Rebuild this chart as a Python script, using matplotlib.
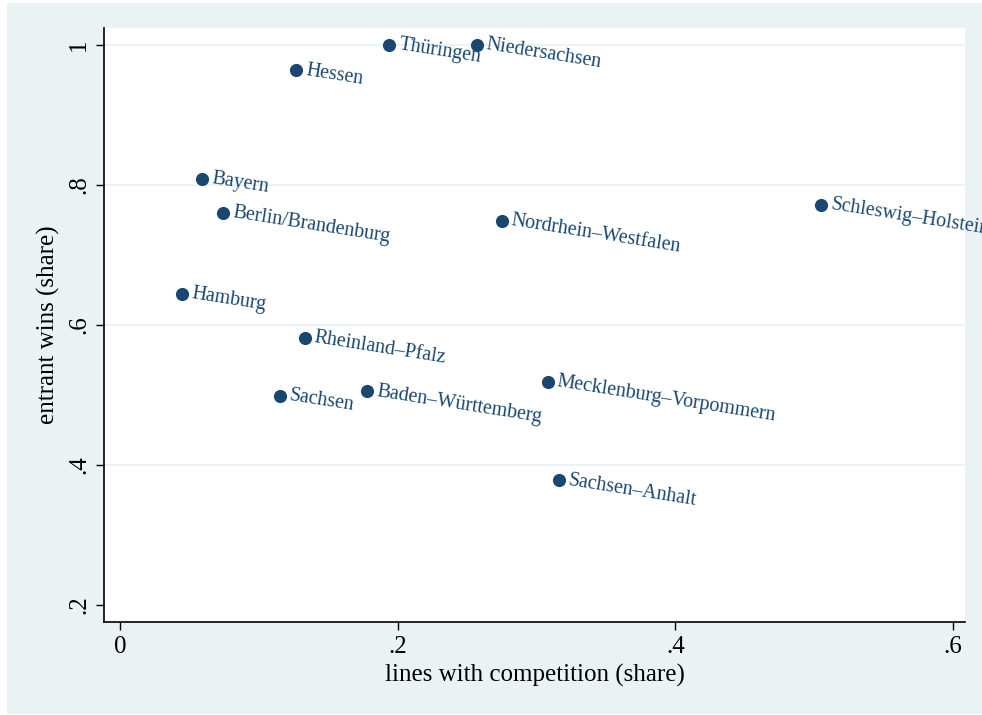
import matplotlib
matplotlib.use("Agg")
import matplotlib.pyplot as plt
from matplotlib.patches import Rectangle

plt.rcParams['font.family'] = ['Liberation Serif', 'DejaVu Serif']

states = ["Thüringen", "Niedersachsen", "Hessen", "Bayern", "Berlin/Brandenburg",
          "Nordrhein–Westfalen", "Schleswig–Holstein", "Hamburg", "Rheinland–Pfalz",
          "Sachsen", "Baden–Württemberg", "Mecklenburg–Vorpommern", "Sachsen–Anhalt"]
competition = [0.194, 0.257, 0.127, 0.059, 0.074, 0.275, 0.505, 0.045, 0.133,
               0.115, 0.178, 0.308, 0.316]
entrant_wins = [1.0, 1.0, 0.964, 0.809, 0.760, 0.749, 0.772, 0.645, 0.582,
                0.499, 0.505, 0.519, 0.378]
xticks = [0, 0.2, 0.4, 0.6]
xticklabels = ["0", ".2", ".4", ".6"]
yticks = [0.2, 0.4, 0.6, 0.8, 1.0]
yticklabels = [".2", ".4", ".6", ".8", "1"]
grid_levels = [0.4, 0.6, 0.8, 1.0]

navy = "#1A476F"
bg = "#EAF2F3"

W, H = 982, 715
fig = plt.figure(figsize=(W / 100, H / 100), dpi=100, facecolor="white")
bgrect = Rectangle((7 / W, 1 / H), 1 - 7 / W, 1 - 4 / H,
                   transform=fig.transFigure, facecolor=bg,
                   edgecolor="none", zorder=-10)
fig.patches.append(bgrect)

ax = fig.add_axes([104 / W, 1 - 622 / H, (965 - 104) / W, (622 - 28) / H])
ax.set_zorder(1)
ax.set_facecolor("white")
ax.set_xlim(-0.0115, 0.6086)
ax.set_ylim(0.1757, 1.0243)

for g in grid_levels:
    ax.axhline(g, color=bg, lw=1.3, zorder=1)

ax.scatter(competition, entrant_wins, s=90, color=navy, zorder=3, linewidths=0)
for name, xv, yv in zip(states, competition, entrant_wins):
    ax.annotate(name, (xv, yv), xytext=(7, 0), textcoords="offset points",
                ha="left", va="center", rotation=-9, rotation_mode="anchor",
                color=navy, fontsize=14.4, zorder=4, annotation_clip=False)

for s in ["top", "right"]:
    ax.spines[s].set_visible(False)
for s in ["left", "bottom"]:
    ax.spines[s].set_linewidth(1.2)
    ax.spines[s].set_color("black")

ax.set_xticks(xticks)
ax.set_xticklabels(xticklabels)
ax.set_yticks(yticks)
ax.set_yticklabels(yticklabels, rotation=90, va="center")
ax.tick_params(axis="both", direction="out", length=6, width=1, labelsize=18,
               colors="black", pad=4)

ax.set_xlabel("lines with competition (share)", fontsize=18, labelpad=4)
ax.set_ylabel("entrant wins (share)", fontsize=18, labelpad=6)

fig.savefig("out.png", dpi=100, facecolor="white")
